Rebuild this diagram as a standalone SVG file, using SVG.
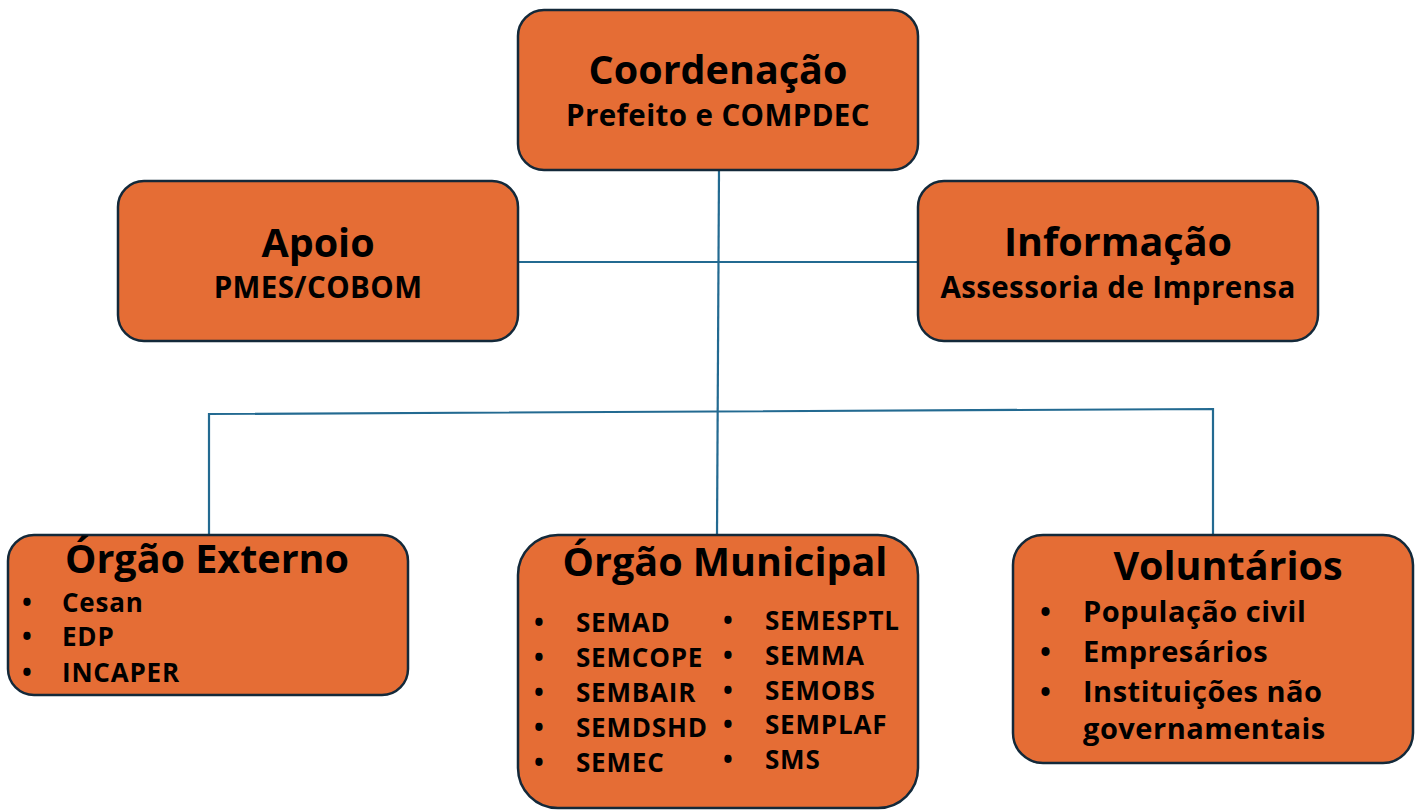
<svg xmlns="http://www.w3.org/2000/svg" width="1421" height="810" viewBox="0 0 1421 810">
<style>
.box{fill:#E56D35;stroke:#13293A;stroke-width:2.5}
.ln{fill:none;stroke:#236A91;stroke-width:2.2}
text{font-family:"Open Sans","Liberation Sans",sans-serif;font-weight:700;fill:#000}
.t{font-size:39.5px;text-anchor:middle}
.s{font-size:29.5px;text-anchor:middle;letter-spacing:0.4px}
.i{font-size:26px;letter-spacing:0.8px}
.v{font-size:29px;letter-spacing:0.5px}
</style>
<rect width="1421" height="810" fill="#fff"/>
<g id="connectors">
<path class="ln" d="M719 170 L717 535"/>
<path class="ln" d="M518 262 L918 262"/>
<path class="ln" d="M209 535 L209 414 L1213 409 L1213 535"/>
</g>
<g id="coordenacao">
<rect class="box" x="518" y="10" width="400" height="160" rx="26"/>
<text class="t" x="718" y="84">Coordenação</text>
<text class="s" x="718" y="126">Prefeito e COMPDEC</text>
</g>
<g id="apoio">
<rect class="box" x="118" y="181" width="400" height="160" rx="26"/>
<text class="t" x="318" y="257">Apoio</text>
<text class="s" x="318" y="298">PMES/COBOM</text>
</g>
<g id="informacao">
<rect class="box" x="918" y="181" width="400" height="160" rx="26"/>
<text class="t" x="1118" y="256">Informação</text>
<text class="s" x="1118" y="298">Assessoria de Imprensa</text>
</g>
<g id="orgao-externo">
<rect class="box" x="8" y="535" width="400" height="160" rx="26"/>
<text class="t" x="207" y="573">Órgão Externo</text>
<g class="i">
<text x="22" y="612">•</text><text x="62" y="612">Cesan</text>
<text x="22" y="646">•</text><text x="62" y="646">EDP</text>
<text x="22" y="682">•</text><text x="62" y="682">INCAPER</text>
</g>
</g>
<g id="orgao-municipal">
<rect class="box" x="518" y="535" width="400" height="273" rx="40"/>
<text class="t" x="725" y="576">Órgão Municipal</text>
<g class="i">
<text x="534" y="632">•</text><text x="576" y="632">SEMAD</text>
<text x="534" y="667">•</text><text x="576" y="667">SEMCOPE</text>
<text x="534" y="702">•</text><text x="576" y="702">SEMBAIR</text>
<text x="534" y="737">•</text><text x="576" y="737">SEMDSHD</text>
<text x="534" y="772">•</text><text x="576" y="772">SEMEC</text>
<text x="723" y="630">•</text><text x="765" y="630">SEMESPTL</text>
<text x="723" y="665">•</text><text x="765" y="665">SEMMA</text>
<text x="723" y="700">•</text><text x="765" y="700">SEMOBS</text>
<text x="723" y="734">•</text><text x="765" y="734">SEMPLAF</text>
<text x="723" y="769">•</text><text x="765" y="769">SMS</text>
</g>
</g>
<g id="voluntarios">
<rect class="box" x="1013" y="535" width="400" height="228" rx="30"/>
<text class="t" x="1228" y="580">Voluntários</text>
<g class="v">
<text x="1040" y="622">•</text><text x="1083" y="622">População civil</text>
<text x="1040" y="662">•</text><text x="1083" y="662">Empresários</text>
<text x="1040" y="702">•</text><text x="1083" y="702">Instituições não</text>
<text x="1083" y="739">governamentais</text>
</g>
</g>
</svg>
